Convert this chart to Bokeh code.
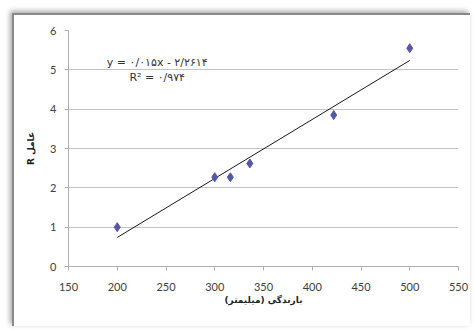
from bokeh.plotting import figure
from bokeh.models import Range1d, FixedTicker, Label
from bokeh.embed import file_html
from bokeh.resources import INLINE

# data
rainfall = [200, 300, 316, 336, 422, 500]
r_factor = [1.0, 2.27, 2.27, 2.62, 3.85, 5.55]
slope = 0.015
intercept = -2.2614
x_ticks = [150, 200, 250, 300, 350, 400, 450, 500, 550]
y_ticks = [0, 1, 2, 3, 4, 5, 6]
eq_text = "y = ۰/۰۱۵x - ۲/۲۶۱۴"
r2_text = "R² = ۰/۹۷۴"
x_title = "بارندگی (میلیمتر)"
y_title = "R عامل"

p = figure(width=458, height=313, output_backend="svg", toolbar_location=None,
           x_range=Range1d(150, 550), y_range=Range1d(0, 6),
           min_border_left=54, min_border_right=14, min_border_top=15, min_border_bottom=62,
           background_fill_color="white", border_fill_color="white")
p.margin = (13, 0, 0, 12)
p.styles = {"border-left": "2px solid #8a8a8a", "border-top": "2px solid #8a8a8a",
            "box-shadow": "-2px -2px 5px #a8a8a8"}
p.outline_line_color = None

# trendline
tx = [min(rainfall), max(rainfall)]
ty = [slope * v + intercept for v in tx]
p.line(tx, ty, line_color="#1a1a1a", line_width=1)

p.scatter(rainfall, r_factor, marker="diamond", size=9, fill_color="#5558A8",
          line_color="#5558A8")

p.xaxis.ticker = FixedTicker(ticks=x_ticks)
p.yaxis.ticker = FixedTicker(ticks=y_ticks)
p.xgrid.grid_line_color = None
p.ygrid.grid_line_color = "#c4c4c4"
p.ygrid.grid_line_width = 1

for ax in (p.xaxis, p.yaxis):
    ax.axis_line_color = "#b0b0b0"
    ax.major_tick_line_color = "#b0b0b0"
    ax.minor_tick_line_color = None
    ax.major_tick_in = 0
    ax.major_tick_out = 4
    ax.major_label_text_font = "Lato"
    ax.major_label_text_font_size = "11px"
    ax.major_label_text_color = "#404040"
    ax.axis_label_text_font = "DejaVu Sans"
    ax.axis_label_text_font_style = "bold"
    ax.axis_label_text_font_size = "9px"
    ax.axis_label_text_color = "#222222"

p.xaxis.axis_label = x_title
p.yaxis.axis_label = y_title
p.xaxis.major_label_standoff = 12
p.xaxis.axis_label_standoff = 1
p.yaxis.major_label_standoff = 8
p.yaxis.axis_label_standoff = 11

p.add_layout(Label(x=241, y=5.19, text=eq_text, text_align="center", text_baseline="middle",
                   text_font="DejaVu Sans", text_font_size="11px", text_color="#333333"))
p.add_layout(Label(x=241, y=4.81, text=r2_text, text_align="center", text_baseline="middle",
                   text_font="DejaVu Sans", text_font_size="11px", text_color="#333333"))

open("out.html", "w").write(file_html(p, INLINE))
